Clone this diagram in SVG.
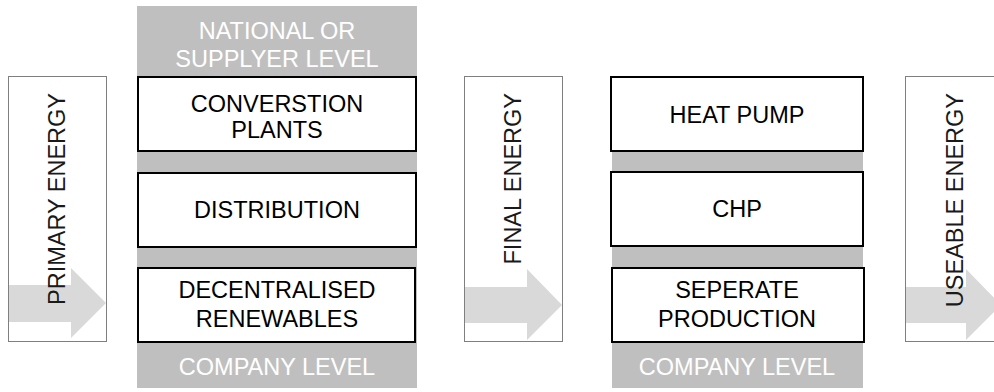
<svg xmlns="http://www.w3.org/2000/svg" width="994" height="392" viewBox="0 0 994 392">
<style>
.bg{fill:#ffffff}
.col{fill:#bfbfbf}
.panel{fill:#ffffff;stroke:#7f7f7f;stroke-width:1}
.arrow{fill:#d9d9d9}
.box{fill:#ffffff;stroke:#000000;stroke-width:2}
text{font-family:"Liberation Sans",Arial,sans-serif;font-size:23.5px;text-anchor:middle}
.lbl{fill:#000000}
.hdr{fill:#ffffff}
.vt{fill:#1a1a1a;text-anchor:end}
</style>
<rect class="bg" x="0" y="0" width="994" height="392"/>

<g id="primary-energy">
<rect class="panel" x="8.5" y="76.5" width="98" height="265"/>
<polygon class="arrow" points="9,285 71,285 71,268 106,303 71,338 71,322 9,322"/>
<text class="vt" transform="translate(65,93) rotate(-90)">PRIMARY ENERGY</text>
</g>

<g id="national-column">
<rect class="col" x="137" y="6" width="280" height="382"/>
<text class="hdr" x="277" y="39">NATIONAL OR</text>
<text class="hdr" x="277" y="67">SUPPLYER LEVEL</text>
<text class="hdr" x="277" y="375">COMPANY LEVEL</text>
</g>

<g id="conversion-plants">
<rect class="box" x="138" y="77" width="278" height="74"/>
<text class="lbl" x="277" y="112">CONVERSTION</text>
<text class="lbl" x="277" y="138">PLANTS</text>
</g>

<g id="distribution">
<rect class="box" x="138" y="173" width="278" height="74"/>
<text class="lbl" x="277" y="218">DISTRIBUTION</text>
</g>

<g id="decentralised-renewables">
<rect class="box" x="138" y="268" width="277" height="74"/>
<text class="lbl" x="277" y="298">DECENTRALISED</text>
<text class="lbl" x="277" y="327">RENEWABLES</text>
</g>

<g id="final-energy">
<rect class="panel" x="464.5" y="76.5" width="98" height="265"/>
<polygon class="arrow" points="465,287 527,287 527,269 562,305 527,340 527,323 465,323"/>
<text class="vt" transform="translate(521,93) rotate(-90)">FINAL ENERGY</text>
</g>

<g id="company-column">
<rect class="col" x="612" y="114" width="251" height="274"/>
<text class="hdr" x="737" y="375">COMPANY LEVEL</text>
</g>

<g id="heat-pump">
<rect class="box" x="611" y="77" width="252" height="74"/>
<text class="lbl" x="737" y="123">HEAT PUMP</text>
</g>

<g id="chp">
<rect class="box" x="611" y="172" width="252" height="74"/>
<text class="lbl" x="737" y="217">CHP</text>
</g>

<g id="seperate-production">
<rect class="box" x="612" y="268" width="252" height="74"/>
<text class="lbl" x="737" y="298">SEPERATE</text>
<text class="lbl" x="737" y="327">PRODUCTION</text>
</g>

<g id="useable-energy">
<rect class="panel" x="905.5" y="76.5" width="98" height="265"/>
<polygon class="arrow" points="906,287 966,287 966,269 1001,305 966,340 966,323 906,323"/>
<text class="vt" transform="translate(963,93) rotate(-90)">USEABLE ENERGY</text>
</g>

<g id="connectors"></g>
</svg>
